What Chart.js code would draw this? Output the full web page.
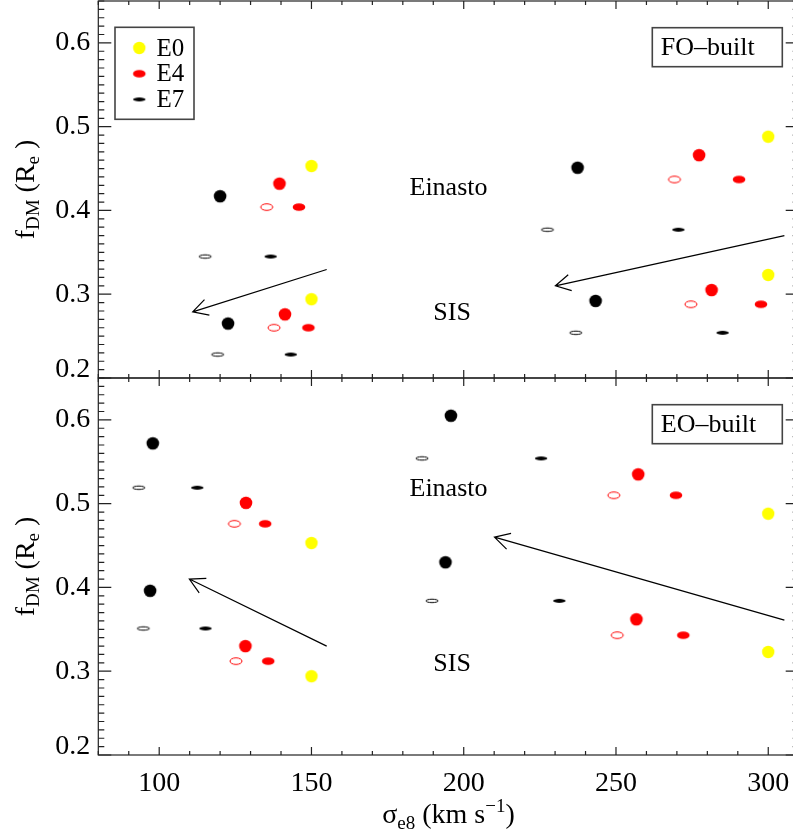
<!DOCTYPE html>
<html>
<head>
<meta charset="utf-8">
<script src="https://cdn.jsdelivr.net/npm/chart.js@4.4.1/dist/chart.umd.min.js"></script>
<style>
  html, body { margin: 0; padding: 0; overflow: hidden; background: #ffffff; width: 793px; height: 836px; }
  #wrap { position: relative; width: 793px; height: 836px; overflow: hidden; }
  #c { position: absolute; left: 0; top: 0; }
</style>
</head>
<body>
<div id="wrap"><canvas id="c" width="800" height="836"></canvas></div>
<script>
// Axis ticks
const xTickValues = [100, 150, 200, 250, 300];
const yTickValues = [0.2, 0.3, 0.4, 0.5, 0.6];
const legendNames = ['E0', 'E4', 'E7'];
const panelNames = ['FO\u2013built', 'EO\u2013built'];
const profileNames = ['Einasto', 'SIS'];

// FO-built panel: [sigma_e8, f_DM]
const foE0 = [[150, 0.453], [150, 0.294], [300, 0.488], [300, 0.323]];
const foE4Round = [[139.5, 0.432], [141.3, 0.276], [277.3, 0.466], [281.4, 0.305]];
const foE4Filled = [[145.9, 0.404], [149.0, 0.260], [290.4, 0.437], [297.6, 0.288]];
const foE4Open = [[135.3, 0.404], [137.7, 0.260], [269.2, 0.437], [274.6, 0.288]];
const foE7Round = [[120.0, 0.417], [122.6, 0.265], [237.4, 0.451], [243.3, 0.292]];
const foE7Filled = [[136.6, 0.345], [143.2, 0.228], [270.5, 0.377], [285.0, 0.254]];
const foE7Open = [[115.1, 0.345], [119.2, 0.228], [227.5, 0.377], [236.8, 0.254]];
const foArrows = [[155.0, 0.3295, 111.0, 0.279], [305.3, 0.370, 230.1, 0.310]];

// EO-built panel: [sigma_e8, f_DM]
const eoE0 = [[150, 0.453], [150, 0.294], [300, 0.488], [300, 0.323]];
const eoE4Round = [[128.5, 0.501], [128.3, 0.330], [257.3, 0.535], [256.7, 0.362]];
const eoE4Filled = [[134.8, 0.476], [135.8, 0.312], [269.7, 0.510], [272.1, 0.343]];
const eoE4Open = [[124.7, 0.476], [125.2, 0.312], [249.3, 0.510], [250.4, 0.343]];
const eoE7Round = [[97.9, 0.572], [97.0, 0.396], [195.8, 0.605], [194.0, 0.430]];
const eoE7Filled = [[112.5, 0.519], [115.2, 0.351], [225.4, 0.554], [231.4, 0.384]];
const eoE7Open = [[93.3, 0.519], [94.8, 0.351], [186.3, 0.554], [189.6, 0.384]];
const eoArrows = [[155.0, 0.330, 109.9, 0.410], [305.3, 0.361, 210.1, 0.460]];

const SERIF = '"Liberation Serif", serif';
Chart.defaults.font.family = SERIF;

// Marker images: shaped ellipses for the projected galaxy shapes
function makeMarker(rx, ry, fill, stroke) {
  const c = document.createElement('canvas');
  c.width = 16; c.height = 16;
  const g = c.getContext('2d');
  g.beginPath();
  g.ellipse(8, 8, rx, ry, 0, 0, Math.PI * 2);
  if (fill) { g.fillStyle = fill; g.fill(); }
  if (stroke) { g.strokeStyle = stroke; g.lineWidth = 1; g.stroke(); }
  return c;
}
const mk = {
  yellowRound: makeMarker(6.2, 6.2, '#ffff00'),
  redRound: makeMarker(6.3, 6.3, '#ff0000'),
  redFilled: makeMarker(6.3, 3.8, '#ff0000'),
  redOpen: makeMarker(6.0, 3.3, null, '#ff0000'),
  blackRound: makeMarker(6.3, 6.3, '#000000'),
  blackFilled: makeMarker(6.2, 1.9, '#000000'),
  blackOpen: makeMarker(6.1, 1.7, null, '#000000')
};

function toXY(arr) { return arr.map(p => ({ x: p[0], y: p[1] })); }
function ds(label, arr, style, axis) {
  return {
    label: label,
    data: toXY(arr),
    yAxisID: axis,
    pointStyle: style,
    pointRadius: 6,
    pointHoverRadius: 6,
    showLine: false
  };
}

const datasets = [
  ds('FO E0', foE0, mk.yellowRound, 'yTop'),
  ds('FO E4 round', foE4Round, mk.redRound, 'yTop'),
  ds('FO E4 filled', foE4Filled, mk.redFilled, 'yTop'),
  ds('FO E4 open', foE4Open, mk.redOpen, 'yTop'),
  ds('FO E7 round', foE7Round, mk.blackRound, 'yTop'),
  ds('FO E7 filled', foE7Filled, mk.blackFilled, 'yTop'),
  ds('FO E7 open', foE7Open, mk.blackOpen, 'yTop'),
  ds('EO E0', eoE0, mk.yellowRound, 'yBot'),
  ds('EO E4 round', eoE4Round, mk.redRound, 'yBot'),
  ds('EO E4 filled', eoE4Filled, mk.redFilled, 'yBot'),
  ds('EO E4 open', eoE4Open, mk.redOpen, 'yBot'),
  ds('EO E7 round', eoE7Round, mk.blackRound, 'yBot'),
  ds('EO E7 filled', eoE7Filled, mk.blackFilled, 'yBot'),
  ds('EO E7 open', eoE7Open, mk.blackOpen, 'yBot')
];

const AXIS_COLOR = '#222222';
const isLowest = v => Math.abs(v - yTickValues[0]) < 1e-9;

function yScaleConfig(weight) {
  return {
    type: 'linear',
    position: 'left',
    stack: 'panels',
    stackWeight: 1,
    weight: weight,
    min: 0.2,
    max: 0.65,
    grid: { display: false },
    border: { display: false },
    afterBuildTicks: s => { s.ticks = yTickValues.map(v => ({ value: v })); },
    afterFit: s => { s.width = 98.3; s.paddingTop = 0; s.paddingBottom = 0; },
    ticks: {
      autoSkip: false,
      padding: 0,
      color: '#000',
      // the lowest label sits just above the panel edge
      font: c => ({ family: SERIF, size: 28, lineHeight: (c.tick && isLowest(c.tick.value)) ? 0.6 : 1.2 }),
      callback: v => isLowest(v) ? [Number(v).toFixed(1), ''] : Number(v).toFixed(1)
    }
  };
}

// Text runs with sub/superscripts: [text, size, baseline shift]
function drawRich(ctx, runs, x, y, align) {
  let total = 0;
  runs.forEach(r => { ctx.font = r[1] + 'px ' + SERIF; total += ctx.measureText(r[0]).width; });
  let cx = align === 'center' ? x - total / 2 : x;
  ctx.textAlign = 'left';
  ctx.textBaseline = 'alphabetic';
  ctx.fillStyle = '#000';
  runs.forEach(r => {
    ctx.font = r[1] + 'px ' + SERIF;
    ctx.fillText(r[0], cx, y + r[2]);
    cx += ctx.measureText(r[0]).width;
  });
}

// Frames, inward ticks, annotations, legend and axis titles
const decorations = {
  id: 'decorations',
  afterDraw(chart) {
    const ctx = chart.ctx;
    const xs = chart.scales.x;
    const left = xs.left, right = xs.right;
    const panels = [
      { y: chart.scales.yTop, name: panelNames[0], arrows: foArrows, textY: [0.419, 0.269] },
      { y: chart.scales.yBot, name: panelNames[1], arrows: eoArrows, textY: [0.5094, 0.3004] }
    ];
    ctx.save();
    panels.forEach(p => {
      const ys = p.y;
      const top = ys.top, bottom = ys.bottom;
      ctx.strokeStyle = AXIS_COLOR;
      ctx.lineWidth = 1.2;
      ctx.strokeRect(left, top, right - left, bottom - top);
      ctx.beginPath();
      // y ticks on both sides
      for (let k = 20; k <= 65; k++) {
        const py = ys.getPixelForValue(k / 100);
        const len = k % 10 === 0 ? 13 : 6;
        ctx.moveTo(left, py); ctx.lineTo(left + len, py);
        ctx.moveTo(right, py); ctx.lineTo(right - len, py);
      }
      // x ticks on top and bottom edges
      for (let v = 80; v <= 310; v += 10) {
        const px = xs.getPixelForValue(v);
        const len = xTickValues.includes(v) ? 8 : 4;
        ctx.moveTo(px, bottom); ctx.lineTo(px, bottom - len);
        ctx.moveTo(px, top); ctx.lineTo(px, top + len);
      }
      ctx.stroke();

      // arrows
      ctx.strokeStyle = '#000';
      ctx.lineWidth = 1.2;
      p.arrows.forEach(a => {
        const x0 = xs.getPixelForValue(a[0]), y0 = ys.getPixelForValue(a[1]);
        const x1 = xs.getPixelForValue(a[2]), y1 = ys.getPixelForValue(a[3]);
        const ang = Math.atan2(y0 - y1, x0 - x1);
        const hl = 17, ha = 0.5;
        ctx.beginPath();
        ctx.moveTo(x0, y0); ctx.lineTo(x1, y1);
        ctx.moveTo(x1 + hl * Math.cos(ang - ha), y1 + hl * Math.sin(ang - ha));
        ctx.lineTo(x1, y1);
        ctx.lineTo(x1 + hl * Math.cos(ang + ha), y1 + hl * Math.sin(ang + ha));
        ctx.stroke();
      });

      // profile labels
      ctx.fillStyle = '#000';
      ctx.font = '26px ' + SERIF;
      ctx.textAlign = 'center';
      ctx.textBaseline = 'alphabetic';
      ctx.fillText(profileNames[0], xs.getPixelForValue(195.0), ys.getPixelForValue(p.textY[0]));
      ctx.fillText(profileNames[1], xs.getPixelForValue(196.2), ys.getPixelForValue(p.textY[1]));

      // panel tag box
      const bx = right - 146.4, bw = 130, bh = 39;
      const by = top + 26.7;
      ctx.lineWidth = 1.6;
      ctx.strokeStyle = '#444';
      ctx.strokeRect(bx, by, bw, bh);
      ctx.textAlign = 'left';
      ctx.fillText(p.name, bx + 8.5, by + 26.8);

      // y axis title, rotated
      const cy = (top + bottom) / 2;
      ctx.save();
      ctx.translate(34, cy);
      ctx.rotate(-Math.PI / 2);
      drawRich(ctx, [
        ['f', 28, 0], ['DM', 19, 5], [' (R', 28, 0], ['e', 19, 5], [' )', 28, 0]
      ], 0, 0, 'center');
      ctx.restore();
    });

    // legend in the upper panel
    const lt = chart.scales.yTop.top;
    const lx = left + 16.7, ly = lt + 26.3;
    ctx.lineWidth = 1.6;
    ctx.strokeStyle = '#444';
    ctx.strokeRect(lx, ly, 79, 92);
    const legendMarks = [mk.yellowRound, mk.redFilled, mk.blackFilled];
    ctx.font = '25px ' + SERIF;
    ctx.textAlign = 'left';
    ctx.fillStyle = '#000';
    legendNames.forEach((n, i) => {
      const cyL = ly + 20.7 + i * 25.7;
      ctx.drawImage(legendMarks[i], lx + 24.3 - 8, cyL - 8);
      ctx.fillText(n, lx + 41.5, cyL + 7.5);
    });

    // x axis title
    const xc = (left + right) / 2;
    drawRich(ctx, [
      ['\u03c3', 28, 0], ['e8', 19, 6], [' (km s', 28, 0], ['\u22121', 19, -11], [')', 28, 0]
    ], xc, 822.7, 'center');
    ctx.restore();
  }
};

new Chart(document.getElementById('c'), {
  type: 'scatter',
  data: { datasets: datasets },
  options: {
    responsive: false,
    animation: false,
    devicePixelRatio: 1,
    layout: { autoPadding: false, padding: { top: 1, right: 1.3, left: 0, bottom: 0 } },
    plugins: { legend: { display: false }, tooltip: { enabled: false } },
    scales: {
      yBot: yScaleConfig(1),
      yTop: yScaleConfig(2),
      x: {
        type: 'linear',
        position: 'bottom',
        min: 80,
        max: 310,
        grid: { display: false },
        border: { display: false },
        afterBuildTicks: s => { s.ticks = xTickValues.map(v => ({ value: v })); },
        afterFit: s => { s.height = 81; s.paddingLeft = 0; s.paddingRight = 0; },
        ticks: {
          autoSkip: false,
          maxRotation: 0,
          padding: 4,
          color: '#000',
          font: { family: SERIF, size: 28 },
          callback: v => String(v)
        }
      }
    }
  },
  plugins: [decorations]
});
</script>
</body>
</html>
